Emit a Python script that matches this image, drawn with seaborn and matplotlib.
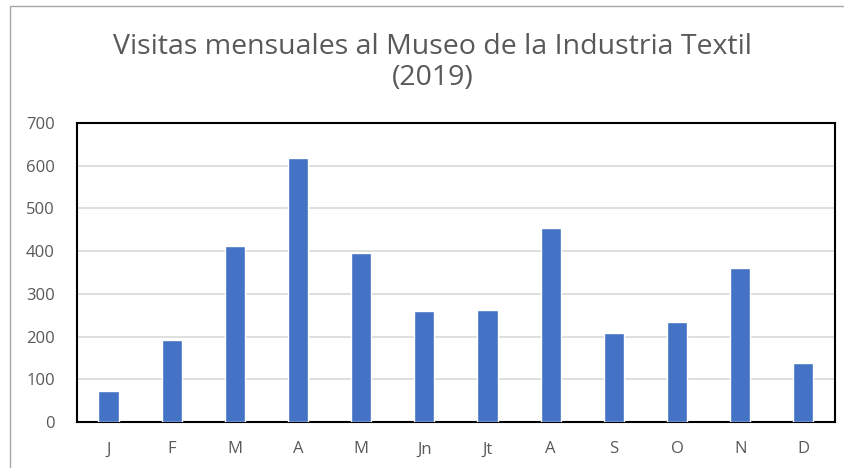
import matplotlib
matplotlib.use("Agg")
import matplotlib.pyplot as plt
import seaborn as sns
import pandas as pd
from matplotlib.patches import Rectangle

months = ["J", "F", "M", "A", "M", "Jn", "Jt", "A", "S", "O", "N", "D"]
visits = [73, 192, 413, 618, 395, 259, 263, 455, 208, 235, 360, 137]
title = "Visitas mensuales al Museo de la Industria Textil\n(2019)"

sns.set_theme(style="white")
plt.rcParams["font.family"] = ["Open Sans", "DejaVu Sans"]

df = pd.DataFrame({"pos": list(range(len(months))), "visits": visits})

fig = plt.figure(figsize=(8.45, 4.68), dpi=100)
ax = fig.add_axes([0.0911, 0.0983, 0.8970, 0.6389])

sns.barplot(data=df, x="pos", y="visits", color="#4472C4", width=0.32,
            saturation=1, ax=ax, zorder=3)

ax.set_ylim(0, 700)
ax.set_yticks(range(0, 701, 100))
ax.set_xticks(range(len(months)))
ax.set_xticklabels(months)
ax.set_xlabel("")
ax.set_ylabel("")
ax.yaxis.grid(True, color="#d9d9d9", linewidth=1.2, zorder=0)
ax.set_axisbelow(True)
for s in ax.spines.values():
    s.set_visible(True)
    s.set_color("black")
    s.set_linewidth(1.5)
ax.tick_params(axis="both", colors="#595959", labelsize=12, length=0)
ax.tick_params(axis="y", pad=16)
ax.tick_params(axis="x", pad=14)

fig.text(0.512, 0.866, title, ha="center", va="center", fontsize=20.5,
         color="#595959", linespacing=1.12)

fig.patches.append(Rectangle((10 / 845, -0.1), 1.2, (468 - 6) / 468 + 0.1,
                             transform=fig.transFigure, fill=False,
                             edgecolor="#a6a6a6", linewidth=1.0))

fig.savefig("out.png", dpi=100)
